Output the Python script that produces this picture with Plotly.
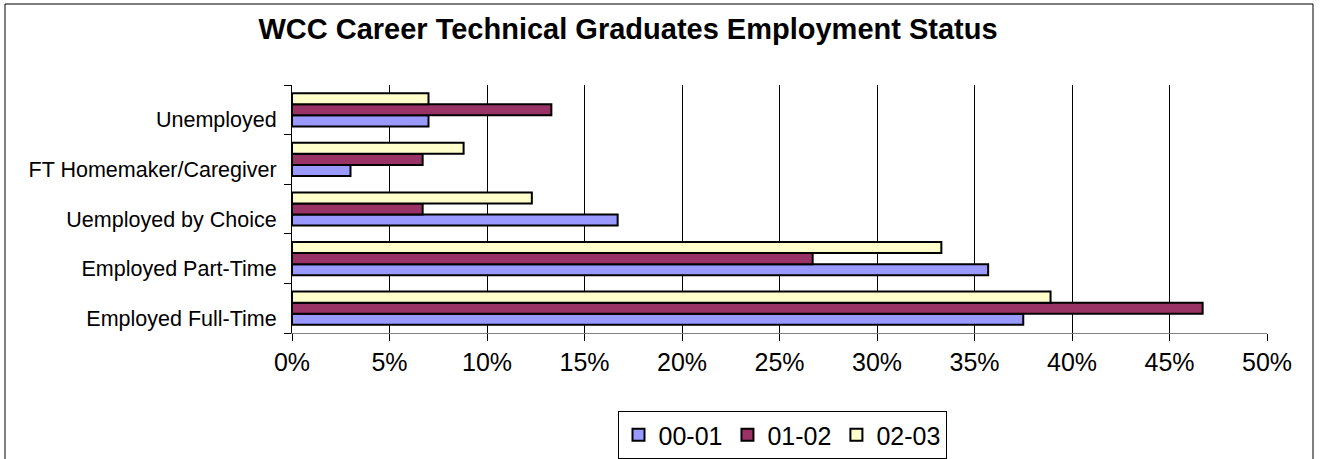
import plotly.graph_objects as go

categories = ["Employed Full-Time", "Employed Part-Time", "Uemployed by Choice",
              "FT Homemaker/Caregiver", "Unemployed"]
series_names = ["00-01", "01-02", "02-03"]
vals_0001 = [37.5, 35.7, 16.7, 3.0, 7.0]
vals_0102 = [46.7, 26.7, 6.7, 6.7, 13.3]
vals_0203 = [38.9, 33.3, 12.3, 8.8, 7.0]
colors = ["#9999FF", "#993366", "#FFFFCC"]
x_ticks = [0, 5, 10, 15, 20, 25, 30, 35, 40, 45, 50]

W, H = 1320, 459
L, R, T, B = 292, 53, 85, 126
pw, ph = W - L - R, H - T - B

def px_x(p):
    return (p - L) / pw

def px_y(p):
    return (H - B - p) / ph

fig = go.Figure()
for name, vals, col in zip(series_names, [vals_0001, vals_0102, vals_0203], colors):
    fig.add_trace(go.Bar(
        y=categories, x=vals, name=name, orientation="h",
        marker=dict(color=col, line=dict(color="black", width=2)),
    ))

fig.update_layout(
    width=W, height=H,
    margin=dict(l=L, r=R, t=T, b=B, autoexpand=False),
    paper_bgcolor="white", plot_bgcolor="white",
    barmode="group", bargap=0.33, bargroupgap=0,
    font=dict(family="Liberation Sans, Arial, sans-serif", color="black"),
    title=dict(text="<b>WCC Career Technical Graduates Employment Status</b>",
               x=628 / W, xref="container", xanchor="center",
               y=1 - 29 / H, yref="container", yanchor="middle",
               font=dict(size=29, color="black")),
    legend=dict(orientation="h", x=px_x(782), xanchor="center",
                y=px_y(411), yanchor="top",
                bordercolor="black", borderwidth=1,
                font=dict(size=25), traceorder="normal",
                itemwidth=30, tracegroupgap=0),
    xaxis=dict(range=[0, 50], tickvals=x_ticks,
               ticktext=[f"{v}%" for v in x_ticks],
               showgrid=True, gridcolor="black", gridwidth=1,
               showline=True, linecolor="#808080", linewidth=1,
               ticks="outside", ticklen=7, tickcolor="black",
               tickfont=dict(size=25), zeroline=False, fixedrange=True),
    yaxis=dict(type="category", categoryorder="array", categoryarray=categories,
               showline=True, linecolor="black", linewidth=1,
               ticks="outside", ticklen=7, tickcolor="black",
               tickson="boundaries", showgrid=False,
               tickfont=dict(size=21.5), ticklabelshift=10,
               ticklabelstandoff=10, fixedrange=True),
    shapes=[dict(type="rect", xref="paper", yref="paper",
                 x0=px_x(5), x1=px_x(1313), y0=px_y(470), y1=px_y(4),
                 line=dict(color="black", width=1), fillcolor="rgba(0,0,0,0)",
                 layer="below")],
)

fig.write_html("out.html", config={"displayModeBar": False},
               post_script="document.body.style.margin='0';document.body.style.padding='0';")
